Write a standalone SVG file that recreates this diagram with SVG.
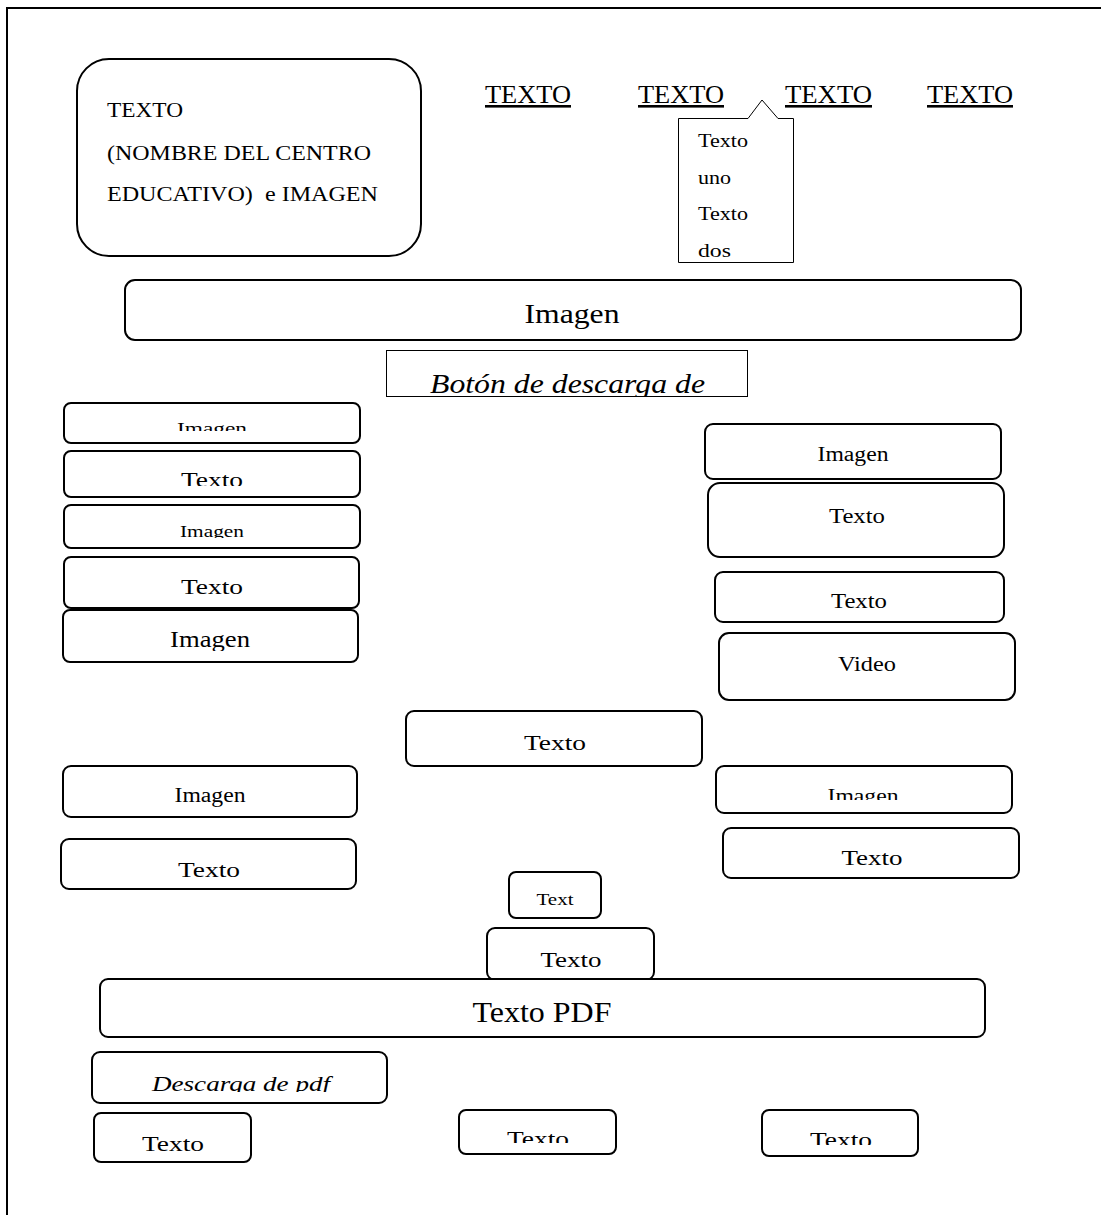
<svg xmlns="http://www.w3.org/2000/svg" width="1101" height="1215" viewBox="0 0 1101 1215">
<style>
.b{fill:#fff;stroke:#000;stroke-width:2}
.t{fill:#fff;stroke:#000;stroke-width:1}
text{font-family:"Liberation Serif","Times New Roman",serif;fill:#000}
.m{text-anchor:middle}
.i{font-style:italic}
</style>
<defs>
<clipPath id="cDrop"><rect x="679" y="119" width="114" height="139"/></clipPath>
<clipPath id="cBoton"><rect x="387" y="351" width="360" height="45"/></clipPath>
<clipPath id="cL1"><rect x="64" y="403" width="296" height="28"/></clipPath>
<clipPath id="cL2"><rect x="64" y="451" width="296" height="35"/></clipPath>
<clipPath id="cL3"><rect x="64" y="505" width="296" height="33"/></clipPath>
<clipPath id="cL5"><rect x="63" y="611" width="296" height="40"/></clipPath>
<clipPath id="cLT"><rect x="61" y="840" width="296" height="39"/></clipPath>
<clipPath id="cRI"><rect x="716" y="767" width="296" height="33"/></clipPath>
<clipPath id="cDesc"><rect x="92" y="1053" width="295" height="39"/></clipPath>
<clipPath id="cB1"><rect x="94" y="1114" width="157" height="38"/></clipPath>
<clipPath id="cB2"><rect x="459" y="1111" width="157" height="32"/></clipPath>
<clipPath id="cB3"><rect x="762" y="1111" width="156" height="34"/></clipPath>
</defs>
<g id="frame"><path d="M7 1215 V8 H1101" fill="none" stroke="#000" stroke-width="2"/></g>
<g id="connectors"></g>
<g id="header">
<rect class="b" x="77" y="59" width="344" height="197" rx="32"/>
<text x="107" y="117" font-size="21" textLength="76" lengthAdjust="spacingAndGlyphs">TEXTO</text>
<text x="107" y="160" font-size="21" textLength="264" lengthAdjust="spacingAndGlyphs">(NOMBRE DEL CENTRO</text>
<text x="107" y="201" font-size="21" textLength="271" lengthAdjust="spacingAndGlyphs" xml:space="preserve">EDUCATIVO)  e IMAGEN</text>
</g>
<g id="menu">
<text x="485" y="103" font-size="26" text-decoration="underline" textLength="86" lengthAdjust="spacingAndGlyphs">TEXTO</text>
<text x="638" y="103" font-size="26" text-decoration="underline" textLength="86" lengthAdjust="spacingAndGlyphs">TEXTO</text>
<text x="785" y="103" font-size="26" text-decoration="underline" textLength="87" lengthAdjust="spacingAndGlyphs">TEXTO</text>
<text x="927" y="103" font-size="26" text-decoration="underline" textLength="86" lengthAdjust="spacingAndGlyphs">TEXTO</text>
</g>
<g id="dropdown">
<path class="t" d="M678.5 118.5 H748 L762 100 L778 118.5 H793.5 V262.5 H678.5 Z"/>
<g clip-path="url(#cDrop)" font-size="19">
<text x="698" y="147" textLength="50" lengthAdjust="spacingAndGlyphs">Texto</text>
<text x="698" y="184" textLength="33" lengthAdjust="spacingAndGlyphs">uno</text>
<text x="698" y="220" textLength="50" lengthAdjust="spacingAndGlyphs">Texto</text>
<text x="698" y="257" textLength="33" lengthAdjust="spacingAndGlyphs">dos</text>
</g>
</g>
<g id="imagen-banner">
<rect class="b" x="125" y="280" width="896" height="60" rx="10"/>
<text class="m" x="572" y="323" font-size="28" textLength="95" lengthAdjust="spacingAndGlyphs">Imagen</text>
</g>
<g id="boton">
<rect class="t" x="386.5" y="350.5" width="361" height="46"/>
<text class="i" clip-path="url(#cBoton)" x="430" y="393" font-size="27" textLength="275" lengthAdjust="spacingAndGlyphs">Botón de descarga de</text>
</g>
<g id="left-1">
<rect class="b" x="64" y="403" width="296" height="40" rx="7"/>
<text class="m" clip-path="url(#cL1)" x="212" y="434" font-size="17" textLength="70" lengthAdjust="spacingAndGlyphs">Imagen</text>
</g>
<g id="left-2">
<rect class="b" x="64" y="451" width="296" height="46" rx="7"/>
<text class="m" clip-path="url(#cL2)" x="212" y="487" font-size="21" textLength="62" lengthAdjust="spacingAndGlyphs">Texto</text>
</g>
<g id="left-3">
<rect class="b" x="64" y="505" width="296" height="43" rx="7"/>
<text class="m" clip-path="url(#cL3)" x="212" y="537" font-size="17" textLength="64" lengthAdjust="spacingAndGlyphs">Imagen</text>
</g>
<g id="left-4">
<rect class="b" x="64" y="557" width="295" height="51" rx="7"/>
<text class="m" x="212" y="594" font-size="22" textLength="62" lengthAdjust="spacingAndGlyphs">Texto</text>
</g>
<g id="left-5">
<rect class="b" x="63" y="610" width="295" height="52" rx="7"/>
<text class="m" clip-path="url(#cL5)" x="210" y="647" font-size="24" textLength="80" lengthAdjust="spacingAndGlyphs">Imagen</text>
</g>
<g id="right-1">
<rect class="b" x="705" y="424" width="296" height="55" rx="8"/>
<text class="m" x="853" y="461" font-size="20" textLength="71" lengthAdjust="spacingAndGlyphs">Imagen</text>
</g>
<g id="right-2">
<rect class="b" x="708" y="483" width="296" height="74" rx="12"/>
<text class="m" x="857" y="523" font-size="20" textLength="56" lengthAdjust="spacingAndGlyphs">Texto</text>
</g>
<g id="right-3">
<rect class="b" x="715" y="572" width="289" height="50" rx="8"/>
<text class="m" x="859" y="608" font-size="20" textLength="56" lengthAdjust="spacingAndGlyphs">Texto</text>
</g>
<g id="right-video">
<rect class="b" x="719" y="633" width="296" height="67" rx="10"/>
<text class="m" x="867" y="671" font-size="20" textLength="58" lengthAdjust="spacingAndGlyphs">Video</text>
</g>
<g id="center-texto">
<rect class="b" x="406" y="711" width="296" height="55" rx="8"/>
<text class="m" x="555" y="750" font-size="22" textLength="62" lengthAdjust="spacingAndGlyphs">Texto</text>
</g>
<g id="left-imagen-b">
<rect class="b" x="63" y="766" width="294" height="51" rx="8"/>
<text class="m" x="210" y="802" font-size="20" textLength="71" lengthAdjust="spacingAndGlyphs">Imagen</text>
</g>
<g id="left-texto-b">
<rect class="b" x="61" y="839" width="295" height="50" rx="8"/>
<text class="m" clip-path="url(#cLT)" x="209" y="877" font-size="22" textLength="62" lengthAdjust="spacingAndGlyphs">Texto</text>
</g>
<g id="right-imagen-b">
<rect class="b" x="716" y="766" width="296" height="47" rx="8"/>
<text class="m" clip-path="url(#cRI)" x="863" y="802" font-size="18" textLength="71" lengthAdjust="spacingAndGlyphs">Imagen</text>
</g>
<g id="right-texto-b">
<rect class="b" x="723" y="828" width="296" height="50" rx="8"/>
<text class="m" x="872" y="865" font-size="21" textLength="61" lengthAdjust="spacingAndGlyphs">Texto</text>
</g>
<g id="text-small">
<rect class="b" x="509" y="872" width="92" height="46" rx="7"/>
<text class="m" x="555" y="905" font-size="16" textLength="37" lengthAdjust="spacingAndGlyphs">Text</text>
</g>
<g id="texto-center-b">
<rect class="b" x="487" y="928" width="167" height="52" rx="8"/>
<text class="m" x="571" y="967" font-size="22" textLength="61" lengthAdjust="spacingAndGlyphs">Texto</text>
</g>
<g id="texto-pdf">
<rect class="b" x="100" y="979" width="885" height="58" rx="8"/>
<text class="m" x="542" y="1022" font-size="30" textLength="139" lengthAdjust="spacingAndGlyphs">Texto PDF</text>
</g>
<g id="descarga-pdf">
<rect class="b" x="92" y="1052" width="295" height="51" rx="8"/>
<text class="m i" clip-path="url(#cDesc)" x="241" y="1091" font-size="22" textLength="178" lengthAdjust="spacingAndGlyphs">Descarga de pdf</text>
</g>
<g id="bottom-1">
<rect class="b" x="94" y="1113" width="157" height="49" rx="7"/>
<text class="m" clip-path="url(#cB1)" x="173" y="1151" font-size="22" textLength="62" lengthAdjust="spacingAndGlyphs">Texto</text>
</g>
<g id="bottom-2">
<rect class="b" x="459" y="1110" width="157" height="44" rx="7"/>
<text class="m" clip-path="url(#cB2)" x="538" y="1146" font-size="20" textLength="62" lengthAdjust="spacingAndGlyphs">Texto</text>
</g>
<g id="bottom-3">
<rect class="b" x="762" y="1110" width="156" height="46" rx="7"/>
<text class="m" clip-path="url(#cB3)" x="841" y="1147" font-size="20" textLength="62" lengthAdjust="spacingAndGlyphs">Texto</text>
</g>
</svg>
